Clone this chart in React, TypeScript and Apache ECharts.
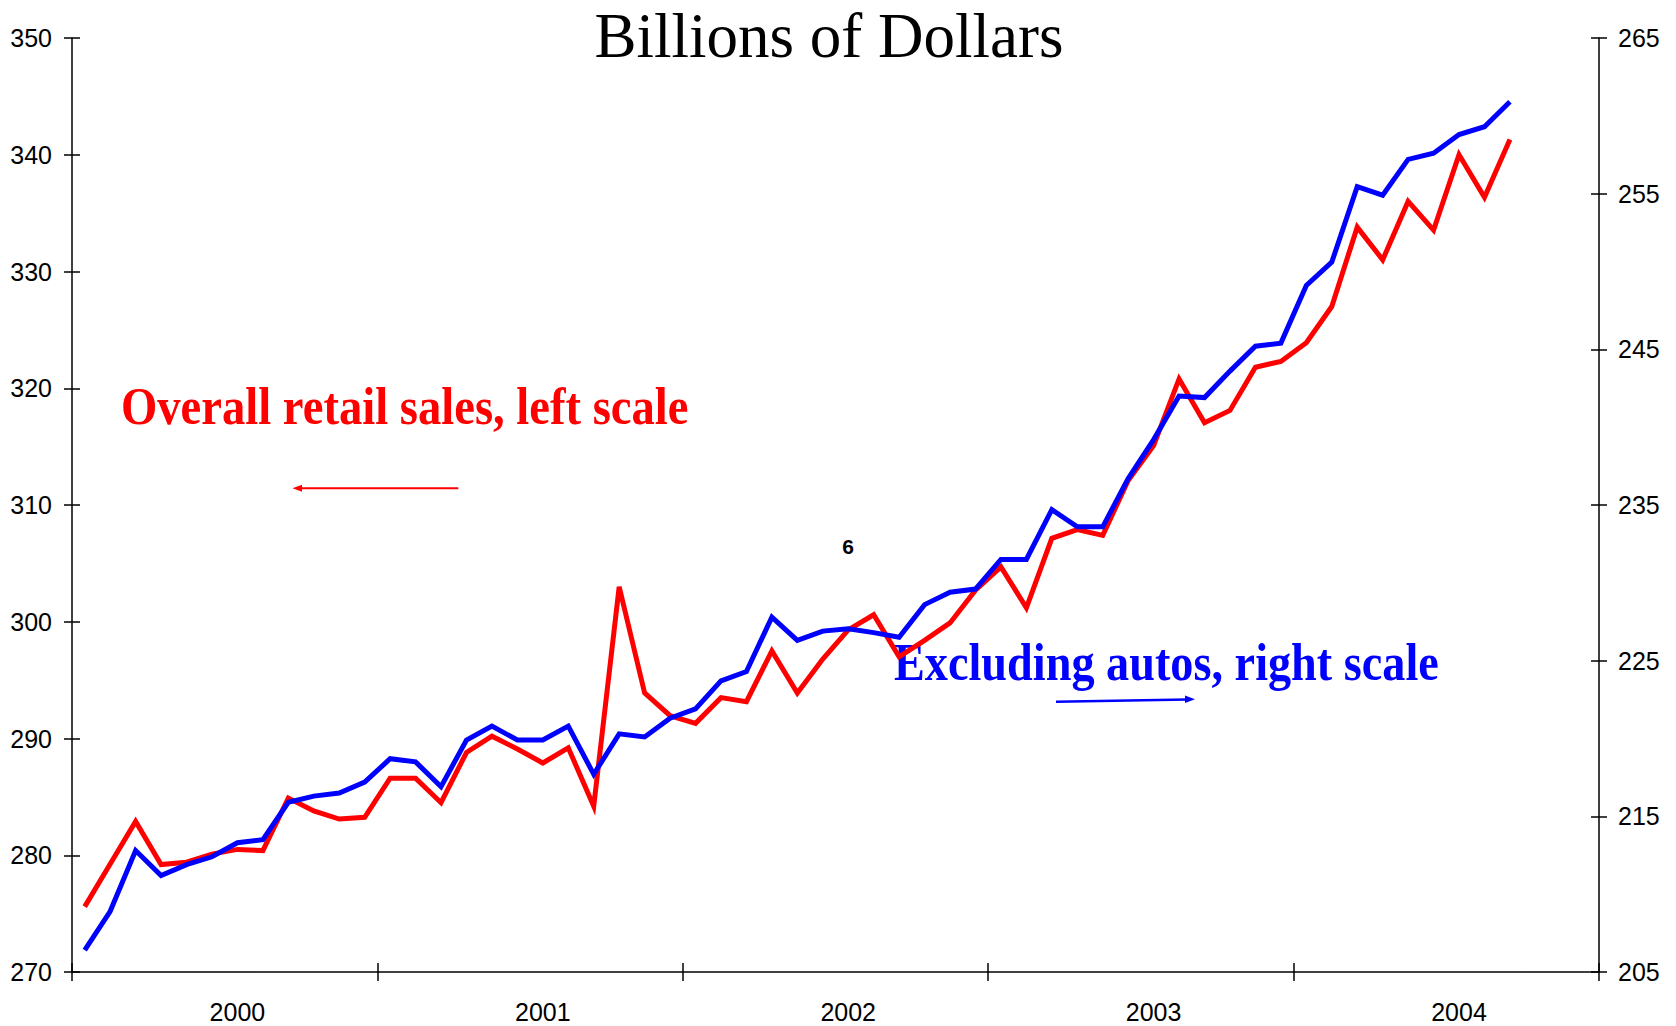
import React, { useEffect, useRef } from "react";
import * as echarts from "echarts";

const years = ["2000", "2001", "2002", "2003", "2004"];
const months = ["01", "02", "03", "04", "05", "06", "07", "08", "09", "10", "11", "12"];
const categories: string[] = [];
years.forEach((y) => months.forEach((m) => categories.push(`${y}-${m}`)));

// Overall retail sales, billions of dollars (left scale)
const overallSales = [
  275.6, 279.25, 282.9, 279.2, 279.4, 280.1, 280.5, 280.4, 284.9, 283.8, 283.1, 283.25,
  286.6, 286.6, 284.5, 288.8, 290.2, 289.1, 287.9, 289.2, 284.2, 303.0, 293.9, 291.95,
  291.3, 293.5, 293.15, 297.5, 293.9, 296.8, 299.3, 300.6, 297.0, 298.4, 299.9, 302.7,
  304.7, 301.2, 307.15, 307.9, 307.4, 312.1, 315.1, 320.8, 317.05, 318.1, 321.8, 322.3,
  323.9, 327.0, 333.8, 331.0, 336.0, 333.55, 340.0, 336.35, 341.3,
];

// Retail sales excluding autos, billions of dollars (right scale)
const exAutosSales = [
  206.4, 208.9, 212.8, 211.2, 211.9, 212.4, 213.3, 213.5, 215.9, 216.3, 216.5, 217.2,
  218.7, 218.5, 216.9, 219.9, 220.8, 219.9, 219.9, 220.8, 217.7, 220.3, 220.1, 221.3,
  221.9, 223.7, 224.3, 227.8, 226.3, 226.9, 227.05, 226.8, 226.5, 228.6, 229.4, 229.6,
  231.5, 231.5, 234.7, 233.6, 233.6, 236.7, 239.2, 242.0, 241.9, 243.6, 245.2, 245.4,
  249.1, 250.6, 255.45, 254.9, 257.2, 257.6, 258.8, 259.3, 260.9,
];

const leftMin = 270, leftMax = 350, leftStep = 10;
const rightMin = 205, rightMax = 265, rightStep = 10;

const titleText = "Billions of Dollars";
const redLabel = "Overall retail sales, left scale";
const blueLabel = "Excluding autos, right scale";
const noteText = "6";

export default function App() {
  const ref = useRef<HTMLDivElement>(null);
  useEffect(() => {
    if (!ref.current) return;
    const chart = echarts.init(ref.current, null, { renderer: "svg" });
    const axisFont = { fontFamily: "Liberation Sans, Arial, sans-serif", fontSize: 25, color: "#000" };
    const lineStyle = { color: "#000", width: 1.5 };
    const xBase = {
      type: "category" as const,
      data: categories,
      boundaryGap: true,
      position: "bottom" as const,
      splitLine: { show: false },
    };
    const tickInterval = (i: number) => i % 12 === 0;
    chart.setOption({
      animation: false,
      backgroundColor: "#fff",
      grid: { left: 72, right: 77, top: 38, bottom: 54, containLabel: false },
      xAxis: [
        {
          ...xBase,
          axisLine: { show: true, lineStyle },
          axisTick: { show: true, length: 9, interval: tickInterval, lineStyle },
          axisLabel: {
            ...axisFont,
            margin: 27,
            interval: (i: number) => i % 12 === 6,
            formatter: (v: string) => v.slice(0, 4),
          },
        },
        {
          ...xBase,
          axisLine: { show: false },
          axisTick: { show: true, inside: true, length: 9, interval: tickInterval, lineStyle },
          axisLabel: { show: false },
        },
      ],
      yAxis: [
        {
          type: "value",
          position: "left",
          min: leftMin,
          max: leftMax,
          interval: leftStep,
          axisLine: { show: true, lineStyle },
          axisTick: { show: true, length: 8, lineStyle },
          axisLabel: { ...axisFont, margin: 20 },
          splitLine: { show: false },
        },
        {
          type: "value",
          position: "left",
          min: leftMin,
          max: leftMax,
          interval: leftStep,
          axisLine: { show: false },
          axisTick: { show: true, inside: true, length: 8, lineStyle },
          axisLabel: { show: false },
          splitLine: { show: false },
        },
        {
          type: "value",
          position: "right",
          min: rightMin,
          max: rightMax,
          interval: rightStep,
          axisLine: { show: true, lineStyle },
          axisTick: { show: true, length: 8, lineStyle },
          axisLabel: { ...axisFont, margin: 19 },
          splitLine: { show: false },
        },
        {
          type: "value",
          position: "right",
          min: rightMin,
          max: rightMax,
          interval: rightStep,
          axisLine: { show: false },
          axisTick: { show: true, inside: true, length: 8, lineStyle },
          axisLabel: { show: false },
          splitLine: { show: false },
        },
      ],
      series: [
        {
          name: redLabel,
          type: "line",
          xAxisIndex: 0,
          yAxisIndex: 0,
          data: overallSales,
          showSymbol: false,
          symbol: "none",
          lineStyle: { color: "#FF0000", width: 5, join: "miter" },
          itemStyle: { color: "#FF0000" },
          z: 3,
        },
        {
          name: blueLabel,
          type: "line",
          xAxisIndex: 0,
          yAxisIndex: 2,
          data: exAutosSales,
          showSymbol: false,
          symbol: "none",
          lineStyle: { color: "#0000FF", width: 5, join: "miter" },
          itemStyle: { color: "#0000FF" },
          z: 4,
        },
      ],
      graphic: [
        {
          type: "text",
          x: 829,
          y: 36,
          style: {
            text: titleText,
            font: "63px 'Liberation Serif', 'Times New Roman', serif",
            fill: "#000",
            align: "center",
            verticalAlign: "middle",
          },
        },
        {
          type: "text",
          x: 121,
          y: 406,
          scaleX: 0.88,
          style: {
            text: redLabel,
            font: "bold 53px 'Liberation Serif', 'Times New Roman', serif",
            fill: "#FF0000",
            align: "left",
            verticalAlign: "middle",
          },
        },
        {
          type: "text",
          x: 894,
          y: 662,
          scaleX: 0.873,
          style: {
            text: blueLabel,
            font: "bold 53px 'Liberation Serif', 'Times New Roman', serif",
            fill: "#0000FF",
            align: "left",
            verticalAlign: "middle",
          },
        },
        {
          type: "text",
          x: 848,
          y: 546,
          style: {
            text: noteText,
            font: "bold 21px 'Liberation Sans', Arial, sans-serif",
            fill: "#000",
            align: "center",
            verticalAlign: "middle",
          },
        },
        {
          type: "line",
          shape: { x1: 300, y1: 488.3, x2: 458.3, y2: 488.3 },
          style: { stroke: "#FF0000", lineWidth: 2 },
        },
        {
          type: "polygon",
          shape: { points: [[292.5, 488.3], [302, 484.8], [302, 491.8]] },
          style: { fill: "#FF0000" },
        },
        {
          type: "line",
          shape: { x1: 1056, y1: 701.7, x2: 1187, y2: 699.5 },
          style: { stroke: "#0000FF", lineWidth: 2.5 },
        },
        {
          type: "polygon",
          shape: { points: [[1195, 699.3], [1185, 695.6], [1185, 703.1]] },
          style: { fill: "#0000FF" },
        },
      ],
    });
    return () => chart.dispose();
  }, []);
  return (
    <div
      ref={ref}
      style={{ position: "fixed", left: 0, top: 0, width: 1676, height: 1026, background: "#fff" }}
    />
  );
}
